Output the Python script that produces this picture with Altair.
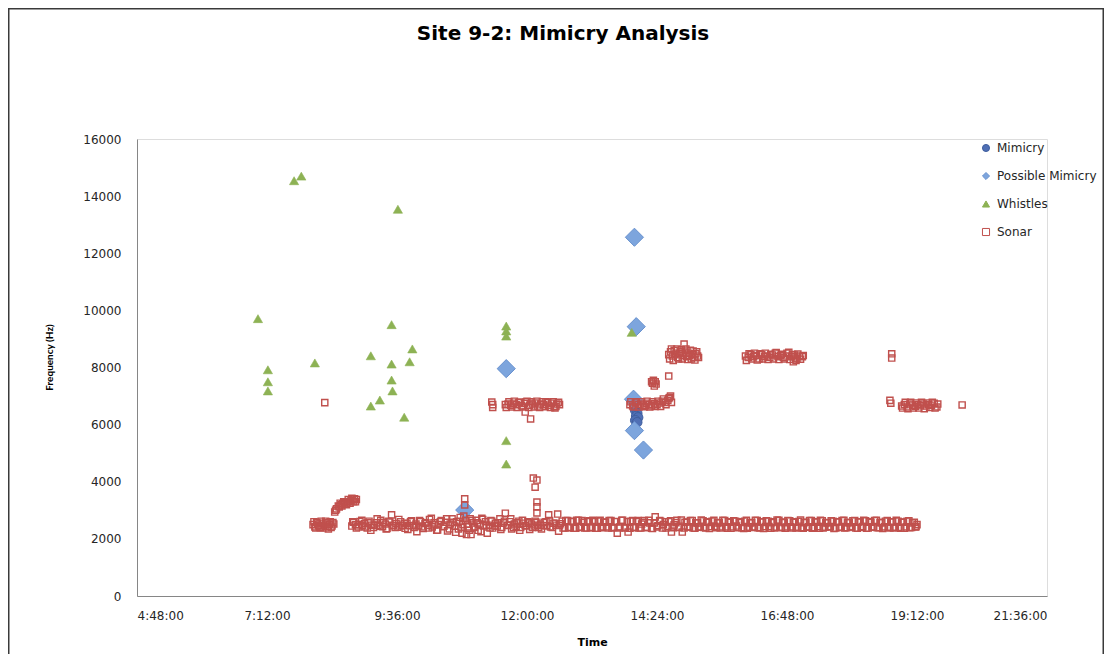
import altair as alt
import pandas as pd

# ---------------- data ----------------
series_names = ["Mimicry", "Possible Mimicry", "Whistles", "Sonar"]

mimicry_times = ["14:00", "14:02", "14:01", "14:03", "14:00", "14:02"]
mimicry_freqs = [6500, 6400, 6300, 6250, 6150, 6080]

possible_times = ["10:51", "11:37", "13:59", "14:01", "13:58", "13:59", "14:09"]
possible_freqs = [3010, 7960, 12560, 9430, 6890, 5790, 5110]

whistle_times = ["7:42", "7:50", "9:37", "7:02", "7:13", "7:13", "7:13", "8:05",
                 "9:07", "9:30", "9:30", "9:30", "9:31", "9:17", "9:07", "9:53",
                 "9:50", "9:44", "11:37", "11:37", "11:37", "11:37", "11:37", "13:56"]
whistle_freqs = [14540, 14700, 13540, 9710, 7920, 7500, 7180, 8160,
                 8410, 9500, 8120, 7560, 7180, 6860, 6650, 8650,
                 8200, 6260, 9450, 9280, 9100, 5440, 4620, 9230]

# sonar: early cluster, rising step, isolated point
sonar_early_times = ["8:03", "8:05", "8:07", "8:09", "8:11", "8:13", "8:15", "8:17",
                     "8:19", "8:21", "8:23", "8:25", "8:16",
                     "8:27", "8:29", "8:32", "8:34", "8:36", "8:38", "8:41", "8:43",
                     "8:45", "8:47", "8:49", "8:51",
                     "8:04", "8:06", "8:08", "8:10", "8:12", "8:14", "8:18", "8:20",
                     "8:22", "8:24", "8:26",
                     "8:28", "8:31", "8:33", "8:35", "8:37", "8:40", "8:42", "8:44",
                     "8:46", "8:48", "8:50"]
sonar_early_freqs = [2500, 2420, 2580, 2460, 2390, 2550, 2480, 2620,
                     2430, 2510, 2400, 2570, 6770,
                     2940, 3050, 3120, 3190, 3230, 3260, 3290, 3310,
                     3330, 3360, 3400, 3380,
                     2600, 2380, 2550, 2420, 2620, 2380, 2560, 2350,
                     2600, 2450, 2520,
                     3000, 3150, 3250, 3150, 3300, 3200, 3380, 3250,
                     3420, 3300, 3300]

# sonar: main band near 2500 Hz (first pass)
sonar_band_times = [
    "8:46", "8:48", "8:50", "8:53", "8:55", "8:58",
    "9:00", "9:03", "9:05", "9:08", "9:10", "9:13", "9:15", "9:18", "9:20", "9:23",
    "9:25", "9:28", "9:30", "9:32", "9:35", "9:37", "9:40", "9:42", "9:45", "9:47",
    "9:50", "9:52", "9:55", "9:57",
    "10:00", "10:02", "10:05", "10:07", "10:10", "10:12", "10:15", "10:17", "10:20",
    "10:22", "10:25", "10:27", "10:30", "10:32", "10:35", "10:37", "10:40", "10:42",
    "10:44", "10:46", "10:48", "10:49", "10:51", "10:51", "10:52", "10:53", "10:55",
    "10:57", "10:58", "11:00",
    "11:02", "11:04", "11:06", "11:08", "11:10", "11:12", "11:14", "11:16", "11:18",
    "11:20", "11:22", "11:25", "11:27", "11:30", "11:32", "11:34", "11:36", "11:38",
    "11:41", "11:43", "11:46", "11:48", "11:51", "11:53", "11:56", "11:58",
    "12:01", "12:03", "12:05", "12:08", "12:10", "12:13", "12:15", "12:18", "12:21",
    "12:24", "12:26", "12:29", "12:32", "12:34", "12:35", "12:37", "12:40", "12:43",
    "12:46", "12:49", "12:52", "12:55", "12:58",
    "13:01", "13:04", "13:07", "13:10", "13:13", "13:16", "13:19", "13:22", "13:25",
    "13:28", "13:31", "13:34", "13:37", "13:40", "13:43", "13:46", "13:49", "13:52",
    "13:55", "13:58",
    "14:01", "14:04", "14:07", "14:10", "14:13", "14:16", "14:19", "14:22", "14:25",
    "14:28", "14:31", "14:34", "14:37", "14:40", "14:43", "14:46", "14:49", "14:52",
    "14:55", "14:58",
    "15:01", "15:04", "15:07", "15:10", "15:13", "15:16", "15:19", "15:22", "15:25",
    "15:28", "15:31", "15:34", "15:37", "15:40", "15:43", "15:46", "15:49", "15:52",
    "15:55", "15:58",
    "16:01", "16:04", "16:07", "16:10", "16:13", "16:16", "16:19", "16:22", "16:25",
    "16:28", "16:31", "16:34", "16:37", "16:40", "16:43", "16:46", "16:49", "16:52",
    "16:55", "16:58",
    "17:01", "17:04", "17:07", "17:10", "17:13", "17:16", "17:19", "17:22", "17:25",
    "17:28", "17:31", "17:34", "17:37", "17:40", "17:43", "17:46", "17:49", "17:52",
    "17:55", "17:58",
    "18:01", "18:04", "18:07", "18:10", "18:13", "18:16", "18:19", "18:22", "18:25",
    "18:28", "18:31", "18:34", "18:37", "18:40", "18:43", "18:46", "18:49", "18:52",
    "18:55", "18:58",
    "19:01", "19:04", "19:07", "19:10", "19:12",
]
sonar_band_freqs = [
    2450, 2580, 2500, 2420, 2610, 2470,
    2540, 2380, 2620, 2480, 2400, 2560, 2470, 2650, 2430, 2520,
    2360, 2590, 2840, 2460, 2540, 2410, 2600, 2480, 2370, 2550,
    2460, 2630, 2400, 2520,
    2450, 2600, 2360, 2540, 2470, 2680, 2420, 2560, 2300,
    2500, 2640, 2430, 2580, 2280, 2520, 2700, 2450, 2600,
    2350, 2750, 2200, 2500, 3400, 3190, 2650, 2150, 2420,
    2700, 2150, 2560,
    2400, 2650, 2300, 2520, 2720, 2450, 2600, 2200, 2480,
    2640, 2380, 2550, 2450, 2700, 2400, 2560, 2900, 2470,
    2600, 2350, 2520, 2440, 2620, 2400, 2550, 2470,
    2600, 2330, 2520, 2450, 2580, 2400, 2520, 2460, 2600,
    2840, 2420, 2550, 2480, 2870, 2270, 2530, 2380, 2640,
    2390, 2620, 2370, 2650, 2400,
    2640, 2380, 2600, 2400, 2650, 2370, 2620, 2390, 2580,
    2420, 2640, 2380, 2600, 2200, 2420, 2650, 2380, 2240,
    2620, 2400,
    2600, 2380, 2520, 2640, 2400, 2560, 2360, 2770, 2460,
    2620, 2500, 2380, 2600, 2240, 2490, 2650, 2400, 2240,
    2580, 2420,
    2640, 2380, 2560, 2420, 2660, 2400, 2580, 2360, 2620,
    2440, 2560, 2380, 2650, 2420, 2600, 2370, 2630, 2450,
    2580, 2390,
    2620, 2370, 2560, 2420, 2650, 2390, 2600, 2360, 2630,
    2430, 2570, 2380, 2660, 2410, 2590, 2370, 2640, 2420,
    2580, 2380,
    2610, 2390, 2570, 2410, 2640, 2370, 2590, 2430, 2650,
    2380, 2560, 2420, 2630, 2360, 2600, 2400, 2640, 2380,
    2570, 2420,
    2630, 2380, 2590, 2410, 2650, 2370, 2600, 2420, 2640,
    2390, 2570, 2360, 2620, 2410, 2590, 2380, 2650, 2400,
    2580, 2370,
    2620, 2390, 2560, 2420, 2500,
]

# sonar: main band near 2500 Hz (second pass, in between)
sonar_band2_times = [
    "8:47", "8:51", "8:54", "8:57", "9:01", "9:04", "9:07", "9:11", "9:14", "9:17",
    "9:21", "9:24", "9:27", "9:31", "9:34", "9:38", "9:41", "9:44", "9:48", "9:51",
    "9:54", "9:58", "10:01", "10:04", "10:08", "10:11", "10:14", "10:18", "10:21", "10:24",
    "10:28", "10:31", "10:34", "10:38", "10:41", "10:45", "10:47", "10:50", "10:54", "10:56",
    "10:59", "11:01", "11:05", "11:09", "11:11", "11:15", "11:19", "11:21", "11:24", "11:28",
    "11:31", "11:35", "11:39", "11:42", "11:45", "11:49", "11:52", "11:55", "11:59", "12:02",
    "12:06", "12:09", "12:12", "12:16", "12:19", "12:22", "12:25", "12:28", "12:31", "12:36",
    "12:39", "12:42", "12:45", "12:48", "12:51", "12:54", "12:57", "13:00", "13:03", "13:06",
    "13:09", "13:12", "13:15", "13:18", "13:21", "13:24", "13:27", "13:30", "13:33", "13:36",
    "13:39", "13:42", "13:45", "13:48", "13:51", "13:54", "13:57", "14:00", "14:03", "14:06",
    "14:09", "14:12", "14:15", "14:18", "14:21", "14:24", "14:27", "14:30", "14:33", "14:36",
    "14:39", "14:42", "14:45", "14:48", "14:51", "14:54", "14:57", "15:00", "15:03", "15:06",
    "15:09", "15:12", "15:15", "15:18", "15:21", "15:24", "15:27", "15:30", "15:33", "15:36",
    "15:39", "15:42", "15:45", "15:48", "15:51", "15:54", "15:57", "16:00", "16:03", "16:06",
    "16:09", "16:12", "16:15", "16:18", "16:21", "16:24", "16:27", "16:30", "16:33", "16:36",
    "16:39", "16:42", "16:45", "16:48", "16:51", "16:54", "16:57", "17:00", "17:03", "17:06",
    "17:09", "17:12", "17:15", "17:18", "17:21", "17:24", "17:27", "17:30", "17:33", "17:36",
    "17:39", "17:42", "17:45", "17:48", "17:51", "17:54", "17:57", "18:00", "18:03", "18:06",
    "18:09", "18:12", "18:15", "18:18", "18:21", "18:24", "18:27", "18:30", "18:33", "18:36",
    "18:39", "18:42", "18:45", "18:48", "18:51", "18:54", "18:57", "19:00", "19:03", "19:06",
    "19:09", "19:11",
]
sonar_band2_freqs = [
    2600, 2380, 2500, 2650, 2420, 2560, 2300, 2480, 2700, 2440,
    2580, 2350, 2620, 2480, 2400, 2680, 2450, 2540, 2330, 2600,
    2470, 2250, 2640, 2420, 2560, 2380, 2720, 2490, 2310, 2600,
    2440, 2700, 2350, 2580, 2230, 2620, 2400, 2800, 2520, 2300,
    2640, 2420, 2560, 2250, 2680, 2480, 2380, 2620, 2450, 2560,
    2330, 2620, 2480, 2700, 2400, 2560, 2300, 2650, 2450, 2560,
    2400, 2620, 2480, 2350, 2580, 2460, 2640, 2400, 2550, 2470,
    2620, 2380, 2640, 2400, 2600, 2370, 2650, 2410, 2580, 2380,
    2630, 2390, 2600, 2370, 2650, 2420, 2590, 2380, 2640, 2400,
    2610, 2380, 2650, 2400, 2600, 2370, 2640, 2400, 2640, 2380,
    2580, 2400, 2650, 2370, 2560, 2420, 2640, 2380, 2600, 2430,
    2630, 2390, 2570, 2410, 2660, 2380, 2590, 2420, 2640, 2370,
    2560, 2410, 2630, 2380, 2600, 2430, 2650, 2390, 2570, 2420,
    2640, 2370, 2580, 2420, 2620, 2390, 2600, 2360, 2650, 2410,
    2570, 2400, 2640, 2380, 2590, 2430, 2620, 2370, 2600, 2410,
    2650, 2390, 2570, 2420, 2630, 2380, 2600, 2410, 2660, 2370,
    2580, 2420, 2640, 2390, 2600, 2370, 2630, 2410, 2570, 2430,
    2620, 2380, 2590, 2410, 2650, 2390, 2570, 2420, 2640, 2370,
    2600, 2430, 2630, 2380, 2580, 2410, 2650, 2390, 2570, 2420,
    2640, 2380, 2600, 2410, 2620, 2370, 2590, 2420, 2630, 2400,
    2580, 2430,
]

# sonar: vertical streak near 12:10
sonar_streak_times = ["12:07", "12:11", "12:09", "12:11", "12:11", "12:11"]
sonar_streak_freqs = [4130, 4060, 3810, 3290, 3120, 2910]

# sonar: upper clusters (6700 / 7500 / 8400 Hz)
sonar_upper_times = [
    "11:21", "11:22", "11:22",
    "11:36", "11:39", "11:42", "11:45", "11:48", "11:51", "11:54", "11:57", "11:58",
    "12:00", "12:03", "12:04", "12:06", "12:09", "12:12", "12:15", "12:18", "12:21",
    "12:24", "12:27", "12:30", "12:31", "12:33", "12:36",
    "11:37", "11:40", "11:43", "11:46", "11:49", "11:52", "11:55", "11:59", "12:02",
    "12:05", "12:08", "12:11", "12:14", "12:17", "12:20", "12:23", "12:26", "12:29",
    "12:32", "12:35",
    "13:54", "13:57", "14:00", "14:03", "14:06", "14:09", "14:12", "14:15", "14:18",
    "14:21", "14:24", "14:27", "14:30", "14:33", "14:36", "14:38", "14:40",
    "13:55", "13:58", "14:01", "14:04", "14:07", "14:10", "14:13", "14:16", "14:19",
    "14:22", "14:25", "14:28", "14:31", "14:34", "14:37", "14:39",
    "14:19", "14:20", "14:21", "14:22", "14:18", "14:23", "14:37",
    "14:37", "14:39", "14:41", "14:43", "14:45", "14:47", "14:49", "14:51", "14:53",
    "14:54", "14:55", "14:57", "14:59", "15:01", "15:03", "15:05", "15:07", "15:09",
    "14:38", "14:40", "14:42", "14:44", "14:46", "14:48", "14:50", "14:52", "14:56",
    "14:58", "15:00", "15:02", "15:04", "15:06", "15:08", "15:10",
    "16:02", "16:05", "16:08", "16:11", "16:14", "16:17", "16:20", "16:23", "16:26",
    "16:29", "16:32", "16:35", "16:38", "16:41", "16:44", "16:47", "16:50", "16:53",
    "16:55", "16:56", "16:58", "16:59", "17:02", "17:05",
    "16:03", "16:06", "16:09", "16:12", "16:15", "16:18", "16:21", "16:24", "16:27",
    "16:30", "16:33", "16:36", "16:39", "16:42", "16:45", "16:48", "16:51", "16:54",
    "16:57", "17:00", "17:03", "17:06",
    "18:44", "18:44",
    "18:42", "18:43", "18:55", "18:58", "19:01", "19:04", "19:07", "19:10", "19:13",
    "19:16", "19:19", "19:22", "19:25", "19:28", "19:31", "19:34", "20:02",
    "18:56", "18:59", "19:02", "19:05", "19:08", "19:11", "19:14", "19:17", "19:20",
    "19:23", "19:26", "19:29", "19:32", "19:35",
]
sonar_upper_freqs = [
    6790, 6600, 6700,
    6700, 6720, 6680, 6750, 6700, 6780, 6660, 6740, 6440,
    6820, 6680, 6200, 6720, 6760, 6650, 6720, 6700, 6800,
    6680, 6750, 6620, 6580, 6720, 6700,
    6600, 6800, 6620, 6820, 6600, 6780, 6620, 6800, 6600,
    6800, 6620, 6820, 6600, 6800, 6630, 6780, 6600, 6800,
    6640, 6780,
    6700, 6650, 6760, 6700, 6720, 6680, 6750, 6700, 6660,
    6730, 6700, 6760, 6820, 6780, 6850, 6950, 6780,
    6800, 6620, 6800, 6620, 6800, 6630, 6820, 6620, 6800,
    6640, 6820, 6640, 6900, 6700, 6920, 7000,
    7450, 7550, 7350, 7500, 7500, 7420, 7700,
    8450, 8550, 8400, 8600, 8500, 8350, 8480, 8620, 8420,
    8820, 8540, 8380, 8500, 8600, 8450, 8350, 8480, 8400,
    8300, 8650, 8250, 8450, 8650, 8300, 8550, 8300, 8650,
    8280, 8420, 8300, 8580, 8260, 8550, 8350,
    8400, 8350, 8450, 8380, 8420, 8300, 8450, 8380, 8400,
    8350, 8440, 8500, 8380, 8420, 8350, 8400, 8530, 8380,
    8200, 8440, 8250, 8300, 8400, 8380,
    8250, 8480, 8300, 8500, 8260, 8480, 8300, 8500, 8280,
    8460, 8300, 8520, 8280, 8460, 8300, 8500, 8280, 8450,
    8330, 8470, 8290, 8420,
    8480, 8330,
    6850, 6750, 6650, 6700, 6620, 6720, 6680, 6640, 6700,
    6660, 6720, 6650, 6700, 6680, 6750, 6620, 6690,
    6580, 6780, 6560, 6780, 6580, 6760, 6580, 6780, 6560,
    6760, 6600, 6780, 6580, 6720,
]

x_ticks = [288, 432, 576, 720, 864, 1008, 1152, 1296]
y_ticks = [0, 2000, 4000, 6000, 8000, 10000, 12000, 14000, 16000]

# ---------------- styles ----------------
fill_colors = ["#4F6FB5", "#7DA5DD", "#8DB254", "transparent"]
stroke_colors = ["#3F5E9E", "#6891CE", "#8DB254", "#C0504D"]
shapes = ["circle", "diamond", "triangle-up", "square"]
marker_area = {"Mimicry": 95, "Possible Mimicry": 330, "Whistles": 85, "Sonar": 38}
marker_stroke = {"Mimicry": 1, "Possible Mimicry": 1, "Whistles": 0.6, "Sonar": 1.4}


def to_min(s):
    h, m = s.split(":")
    return int(h) * 60 + int(m)


groups = [
    ("Mimicry", mimicry_times, mimicry_freqs),
    ("Possible Mimicry", possible_times, possible_freqs),
    ("Whistles", whistle_times, whistle_freqs),
    ("Sonar", sonar_early_times, sonar_early_freqs),
    ("Sonar", sonar_band_times, sonar_band_freqs),
    ("Sonar", sonar_band2_times, sonar_band2_freqs),
    ("Sonar", sonar_streak_times, sonar_streak_freqs),
    ("Sonar", sonar_upper_times, sonar_upper_freqs),
]
rows = []
for name, times, freqs in groups:
    assert len(times) == len(freqs), (name, len(times), len(freqs))
    for t, f in zip(times, freqs):
        rows.append({"series": name, "minutes": to_min(t), "freq": f,
                     "msize": marker_area[name], "mstroke": marker_stroke[name]})
df = pd.DataFrame(rows)
df["idx"] = range(len(df))

FONT = "DejaVu Sans"
LABEL_COLOR = "#262626"

legend = alt.Legend(
    title=None, orient="none", legendX=843, legendY=3,
    symbolSize=50, symbolStrokeWidth=1, labelFont=FONT, labelFontSize=12,
    labelColor=LABEL_COLOR, rowPadding=16, labelOffset=5,
)

label_expr = ("floor(datum.value / 60) + ':' + (datum.value % 60 < 10 ? '0' : '') "
              "+ (datum.value % 60) + ':00'")

points = alt.Chart(df).mark_point(filled=True, opacity=1).encode(
    x=alt.X(
        "minutes:Q",
        scale=alt.Scale(domain=[288, 1296], nice=False, zero=False),
        axis=alt.Axis(
            values=x_ticks, labelExpr=label_expr, title="Time", grid=False,
            ticks=False, tickSize=0, domainColor="#868686", labelPadding=14,
            labelFont=FONT, labelFontSize=12, labelColor=LABEL_COLOR,
            titleFont=FONT, titleFontSize=11, titleFontWeight="bold",
            titleColor="black", titlePadding=15,
        ),
    ),
    y=alt.Y(
        "freq:Q",
        scale=alt.Scale(domain=[0, 16000], nice=False),
        axis=alt.Axis(
            values=y_ticks, format="d", title="Frequency (Hz)", grid=False,
            ticks=False, tickSize=0, domainColor="#868686", labelPadding=16,
            labelFont=FONT, labelFontSize=12, labelColor=LABEL_COLOR,
            titleFont="Lato", titleFontSize=10, titleFontWeight="bold",
            titleColor="black", titleX=-83, titleY=218, titleAngle=270,
            titleBaseline="bottom",
        ),
    ),
    shape=alt.Shape("series:N", scale=alt.Scale(domain=series_names, range=shapes), legend=legend),
    fill=alt.Fill("series:N", scale=alt.Scale(domain=series_names, range=fill_colors), legend=legend),
    stroke=alt.Stroke("series:N", scale=alt.Scale(domain=series_names, range=stroke_colors), legend=legend),
    size=alt.Size("msize:Q", scale=None),
    strokeWidth=alt.StrokeWidth("mstroke:Q", scale=None),
    order=alt.Order("idx:Q"),
)

frame = alt.Chart(alt.Data(values=[{"k": 1}])).mark_rect(
    fill="transparent", stroke="#3a3a3a", strokeWidth=1.5
).encode(
    x=alt.value(-128.25), x2=alt.value(966.25),
    y=alt.value(-130.25), y2=alt.value(560),
)

chart = alt.layer(frame, points).properties(
    width=910,
    height=457,
    padding={"left": 129, "top": 131, "right": 57, "bottom": 58},
    autosize=alt.AutoSizeParams(type="none"),
    title=alt.TitleParams(
        "Site 9-2: Mimicry Analysis", font=FONT, fontSize=20, fontWeight="bold",
        color="black", anchor="middle", frame="group", dx=-29, offset=-52,
        baseline="alphabetic",
    ),
).configure_view(strokeWidth=0).configure(background="white")

chart.save("out.html", embed_options={"renderer": "svg", "actions": False})
